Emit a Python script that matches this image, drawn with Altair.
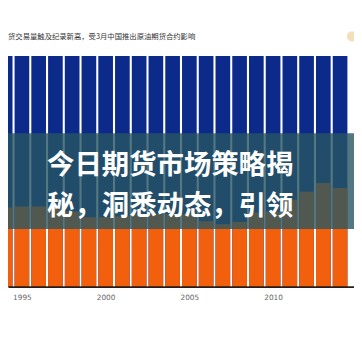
import altair as alt
import pandas as pd

years = list(range(1994, 2015))
orange_share = [34.3, 34.7, 34.7, 34.3, 32.6, 30.1, 30.1, 30.5, 31.4, 31.4, 31.4,
                31.4, 28.4, 27.1, 28.0, 32.2, 32.6, 37.7, 41.1, 44.9, 42.8]
total_share = [100] * len(years)
tick_years = [1995, 2000, 2005, 2010]
subtitle = "货交易量触及纪录新高，受3月中国推出原油期货合约影响"
headline_1 = "今日期货市场策略揭"
headline_2 = "秘，洞悉动态，引领"
band_low = [25.0]
band_high = [66.5]

df = pd.DataFrame({"year": years, "total": total_share, "orange": orange_share})
band_df = pd.DataFrame({"lo": band_low, "hi": band_high})

W, H = 354, 354
xscale = alt.Scale(domain=[1994.461, 2014.54], nice=False, zero=False)
yscale = alt.Scale(domain=[-30.93, 119.07], nice=False, zero=False)

xaxis = alt.Axis(values=tick_years, format="d", title=None, ticks=False, grid=False,
                 domainColor="#2b1d14", domainWidth=2, labelFontSize=7.5,
                 labelColor="#666666", labelPadding=7, offset=-73, zindex=2,
                 labelFont="DejaVu Sans")

base = alt.Chart(df)

blue = base.mark_bar(width=15, color="#0c2a8a", clip=True).encode(
    x=alt.X("year:Q", scale=xscale, axis=xaxis),
    y=alt.Y("total:Q", scale=yscale, axis=None),
    y2=alt.datum(0),
)
orange = base.mark_bar(width=15, color="#f2600e", clip=True).encode(
    x=alt.X("year:Q", scale=xscale),
    y=alt.Y("orange:Q", scale=yscale),
    y2=alt.datum(0),
)

band = alt.Chart(band_df).mark_rect(color="#285662", opacity=0.8).encode(
    x=alt.value(0), x2=alt.value(W),
    y=alt.Y("hi:Q", scale=yscale), y2="lo:Q",
)

t1 = alt.Chart(pd.DataFrame({"t": [headline_1]})).mark_text(
    align="left", baseline="middle", fontSize=28, fontWeight="bold",
    font="Noto Sans CJK SC", color="white",
).encode(text="t:N", x=alt.value(40), y=alt.value(158))

t2 = alt.Chart(pd.DataFrame({"t": [headline_2]})).mark_text(
    align="left", baseline="middle", fontSize=28, fontWeight="bold",
    font="Noto Sans CJK SC", color="white",
).encode(text="t:N", x=alt.value(40), y=alt.value(200))

sub = alt.Chart(pd.DataFrame({"t": [subtitle]})).mark_text(
    align="left", baseline="middle", fontSize=7.5,
    font="Noto Sans CJK SC", color="#333333",
).encode(text="t:N", x=alt.value(0), y=alt.value(26))

icon = alt.Chart(pd.DataFrame({"t": [1]})).mark_point(
    filled=True, color="#f1dcb4", size=110, opacity=0.9,
).encode(x=alt.value(352), y=alt.value(25))

chart = alt.layer(blue, orange, band, t1, t2, sub, icon).properties(
    width=W, height=H,
    autosize=alt.AutoSizeParams(type="none"),
    padding=0,
    background="white",
).configure_view(stroke=None)

chart.save("out.html", embed_options={"renderer": "svg", "actions": False})
